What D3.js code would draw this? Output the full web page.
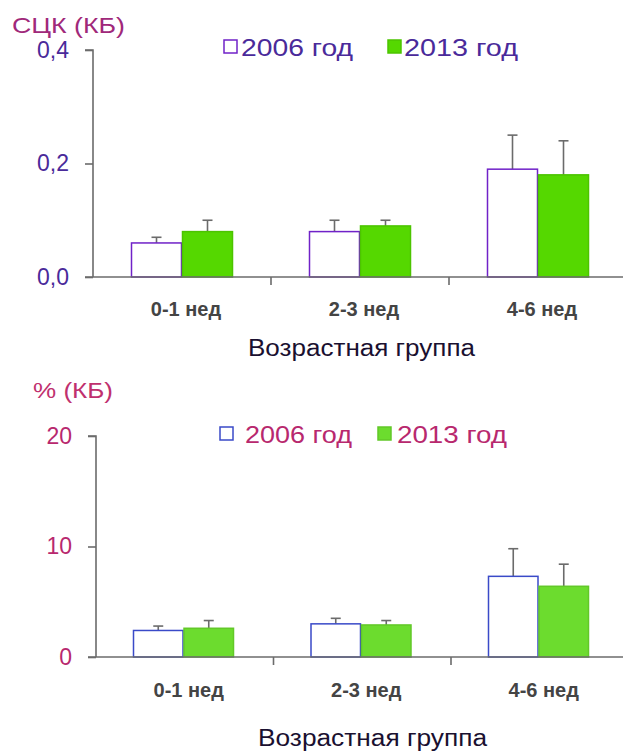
<!DOCTYPE html>
<html>
<head>
<meta charset="utf-8">
<script src="https://cdn.jsdelivr.net/npm/d3@7"></script>
<style>
  html, body { margin: 0; padding: 0; background: #fff; }
  svg { display: block; }
</style>
</head>
<body>
<svg id="chart" width="623" height="751"></svg>
<script>
// Age groups and study years
const categories = ["0-1 нед", "2-3 нед", "4-6 нед"];
const series = ["2006 год", "2013 год"];

// Panel 1: СЦК (КБ), mean and upper error
const sckMean2006 = [0.06, 0.08, 0.19];
const sckErr2006  = [0.07, 0.10, 0.25];
const sckMean2013 = [0.08, 0.09, 0.18];
const sckErr2013  = [0.10, 0.10, 0.24];
const sckTicks = [0, 0.2, 0.4];
const sckTickLabels = ["0,0", "0,2", "0,4"];

// Panel 2: % (КБ), mean and upper error
const pctMean2006 = [2.4, 3.0, 7.3];
const pctErr2006  = [2.8, 3.5, 9.8];
const pctMean2013 = [2.6, 2.9, 6.4];
const pctErr2013  = [3.3, 3.3, 8.4];
const pctTicks = [0, 10, 20];
const pctTickLabels = ["0", "10", "20"];

const svg = d3.select("#chart");
const SANS = "Arial, 'Liberation Sans', sans-serif";

function panel(cfg) {
  const g = svg.append("g");
  const x0 = d3.scaleBand().domain(categories).range([cfg.x0, cfg.x0 + 3 * cfg.step]).padding(0);
  const x1 = d3.scaleBand().domain(series).range([cfg.inner, cfg.inner + 2 * cfg.barW]).padding(0);
  const y = d3.scaleLinear().domain(cfg.domain).range([cfg.yBottom, cfg.yTop]);

  const rows = [];
  categories.forEach((c, i) => {
    rows.push({ cat: c, s: series[0], v: cfg.m1[i], e: cfg.e1[i] });
    rows.push({ cat: c, s: series[1], v: cfg.m2[i], e: cfg.e2[i] });
  });

  // error bars (upper only), drawn behind bars
  const eb = g.append("g").attr("stroke", "#6b6b6b").attr("stroke-width", 1.6);
  rows.forEach(d => {
    const cx = x0(d.cat) + x1(d.s) + x1.bandwidth() / 2;
    eb.append("line").attr("x1", cx).attr("x2", cx).attr("y1", y(d.v)).attr("y2", y(d.e));
    eb.append("line").attr("x1", cx - 5).attr("x2", cx + 5).attr("y1", y(d.e)).attr("y2", y(d.e));
  });

  // bars
  g.append("g").selectAll("rect").data(rows).join("rect")
    .attr("x", d => x0(d.cat) + x1(d.s) + 0.5)
    .attr("y", d => y(d.v))
    .attr("width", x1.bandwidth() - 1)
    .attr("height", d => y(0) - y(d.v))
    .attr("fill", d => d.s === series[0] ? "#ffffff" : cfg.green)
    .attr("stroke", d => d.s === series[0] ? cfg.outline : cfg.greenEdge)
    .attr("stroke-width", 1.5);

  // y axis
  const ya = g.append("g").attr("transform", `translate(${cfg.x0},0)`)
    .call(d3.axisLeft(y).tickValues(cfg.ticks).tickSize(8).tickPadding(16)
      .tickFormat((d, i) => cfg.tickLabels[i]));
  ya.select(".domain").attr("stroke", "#6b6b6b").attr("stroke-width", 1.6)
    .attr("d", `M-8,${cfg.yTop}H0V${cfg.yBottom}`);
  ya.selectAll(".tick line").attr("stroke", "#6b6b6b").attr("stroke-width", 1.6);
  ya.selectAll(".tick text").attr("fill", cfg.textColor)
    .style("font-family", SANS).style("font-size", "23px");

  // x axis
  const xa = g.append("g").attr("transform", `translate(0,${cfg.yBottom})`);
  xa.append("line").attr("x1", cfg.x0 - 8).attr("x2", 623).attr("y1", 0).attr("y2", 0)
    .attr("stroke", "#6b6b6b").attr("stroke-width", 1.6);
  categories.slice(1).forEach(c => {
    xa.append("line").attr("x1", x0(c)).attr("x2", x0(c)).attr("y1", 0).attr("y2", 8)
      .attr("stroke", "#6b6b6b").attr("stroke-width", 1.6);
  });
  g.selectAll("text.cat").data(categories).join("text").attr("class", "cat")
    .attr("x", d => x0(d) + x0.bandwidth() / 2 + 4)
    .attr("y", cfg.catY)
    .attr("text-anchor", "middle")
    .attr("fill", "#444")
    .style("font-family", "'Liberation Sans Narrow', 'Arial Narrow', sans-serif")
    .style("font-weight", "bold").style("font-size", "20px")
    .text(d => d);

  // axis titles
  g.append("text").attr("x", cfg.titleX).attr("y", cfg.titleY)
    .attr("fill", cfg.titleColor)
    .attr("textLength", cfg.titleW).attr("lengthAdjust", "spacingAndGlyphs")
    .style("font-family", SANS).style("font-size", "22px")
    .text(cfg.title);
  g.append("text").attr("x", cfg.xTitleX).attr("y", cfg.xTitleY)
    .attr("fill", "#1a1030")
    .attr("textLength", cfg.xTitleW).attr("lengthAdjust", "spacingAndGlyphs")
    .style("font-family", SANS).style("font-size", "23px")
    .text("Возрастная группа");

  // legend
  const lg = g.append("g");
  series.forEach((s, i) => {
    const lx = cfg.legX[i];
    lg.append("rect").attr("x", lx).attr("y", cfg.legY - 7).attr("width", 13).attr("height", 13)
      .attr("fill", i === 0 ? "#fff" : cfg.green)
      .attr("stroke", i === 0 ? cfg.outline : cfg.greenEdge).attr("stroke-width", 1.5);
    lg.append("text").attr("x", cfg.legTextX[i]).attr("y", cfg.legY + 9)
      .attr("fill", cfg.textColor)
      .attr("textLength", cfg.legW[i]).attr("lengthAdjust", "spacingAndGlyphs")
      .style("font-family", SANS).style("font-size", "24px")
      .text(s);
  });
}

panel({
  x0: 93, step: 178, inner: 38, barW: 51,
  domain: [0, 0.4], yBottom: 277, yTop: 50,
  m1: sckMean2006, e1: sckErr2006, m2: sckMean2013, e2: sckErr2013,
  ticks: sckTicks, tickLabels: sckTickLabels,
  green: "#55d800", greenEdge: "#4cc400", outline: "#7022c8",
  textColor: "#4a2a9a", titleColor: "#a0287a",
  title: "СЦК (КБ)", titleX: 12, titleY: 33, titleW: 113,
  catY: 316, xTitleX: 248, xTitleY: 356, xTitleW: 227,
  legX: [224, 388], legTextX: [241, 404], legW: [112, 114], legY: 47
});

panel({
  x0: 96, step: 177.5, inner: 37, barW: 50.5,
  domain: [0, 20], yBottom: 657, yTop: 436,
  m1: pctMean2006, e1: pctErr2006, m2: pctMean2013, e2: pctErr2013,
  ticks: pctTicks, tickLabels: pctTickLabels,
  green: "#6cdc2e", greenEdge: "#62c828", outline: "#3a4ac8",
  textColor: "#b8286e", titleColor: "#c0306e",
  title: "% (КБ)", titleX: 33, titleY: 398, titleW: 80,
  catY: 697, xTitleX: 258, xTitleY: 746, xTitleW: 229,
  legX: [220, 378], legTextX: [245, 397], legW: [107, 110], legY: 434
});
</script>
</body>
</html>
